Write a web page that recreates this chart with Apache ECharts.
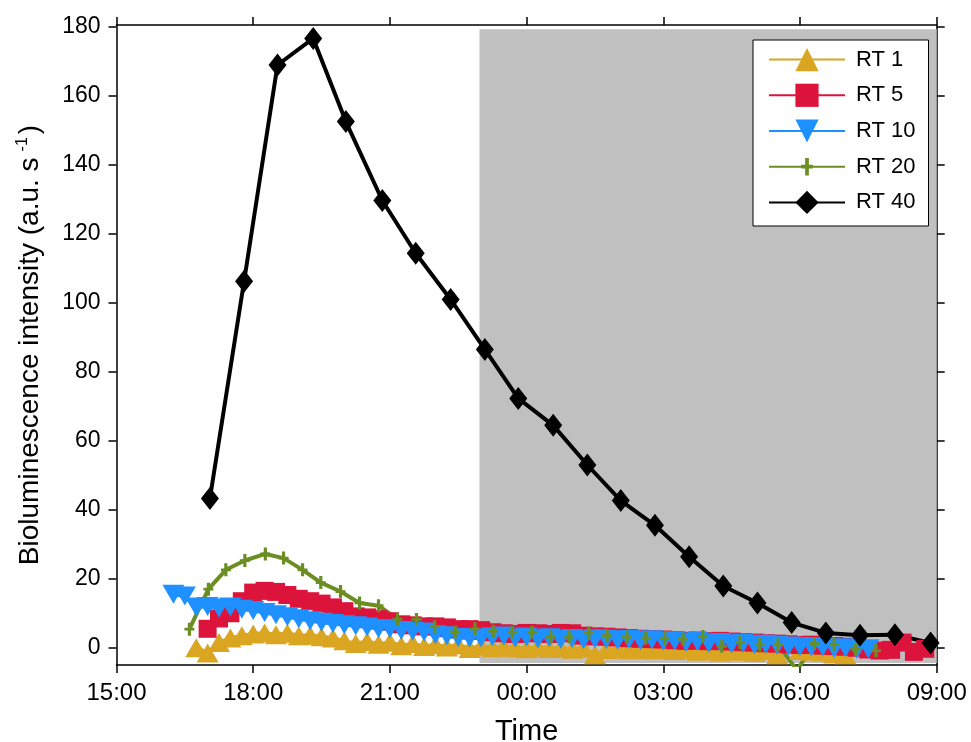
<!DOCTYPE html>
<html><head><meta charset="utf-8">
<script src="https://cdn.jsdelivr.net/npm/echarts@6/dist/echarts.min.js"></script>
<style>html,body{margin:0;padding:0;background:#fff}#c{width:971px;height:742px}</style>
</head><body><div id="c"></div>
<script>
// ---- data ----
const sampleTimes = ["16:15","16:30","16:45","17:00","17:15","17:30","17:45","18:00","18:15","18:30","18:45","19:00","19:15","19:30","19:45","20:00","20:15","20:30","20:45","21:00","21:15","21:30","21:45","22:00","22:15","22:30","22:45","23:00","23:15","23:30","23:45","00:00","00:15","00:30","00:45","01:00","01:15","01:30","01:45","02:00","02:15","02:30","02:45","03:00","03:15","03:30","03:45","04:00","04:15","04:30","04:45","05:00","05:15","05:30","05:45","06:00","06:15","06:30","06:45","07:00","07:15","07:30","07:45","08:00","08:15","08:30","08:45"];
const rt1Values = [null,null,0.0,-1.5,1.5,2.8,3.5,4.0,4.3,3.8,4.2,3.5,3.6,3.2,2.8,2.0,1.2,1.8,1.0,1.6,0.6,1.2,0.4,0.9,0.2,0.8,-0.2,0.5,0.0,0.3,0.0,-0.3,0.2,-0.2,0.0,-0.4,-0.1,-2.0,-0.5,-0.3,-0.6,-0.4,-0.6,-0.5,-0.8,-0.5,-1.0,-0.7,-1.2,-0.9,-1.0,-1.3,-0.8,-2.0,1.3,-0.8,-1.0,-1.2,-1.8,-2.0,null,null,null,null,null,null,null];
const rt5Values = [null,null,null,5.5,8.5,10.0,13.5,16.0,16.5,16.2,15.3,14.2,13.5,12.8,11.7,10.6,9.1,8.8,8.3,7.7,6.8,6.5,6.2,6.2,5.9,5.4,5.4,5.1,4.5,4.2,4.0,4.3,4.2,4.0,4.3,4.2,3.5,3.3,3.2,3.0,2.8,2.6,2.5,2.4,2.2,2.0,2.1,1.9,2.0,1.8,1.6,1.5,1.3,1.2,1.0,0.8,0.9,0.6,0.5,0.3,0.0,-0.5,-0.8,-0.6,1.5,-1.2,-0.3];
const rt10Values = [15.5,15.0,11.8,12.0,11.5,11.8,11.2,10.8,10.2,9.6,9.0,8.4,7.8,7.4,7.0,6.7,6.4,6.0,5.6,5.5,5.0,4.8,4.6,3.8,3.5,3.0,2.8,2.8,3.2,3.4,2.8,3.1,2.6,2.9,2.4,2.7,2.3,2.6,2.5,2.2,2.4,2.1,2.3,1.9,2.0,1.6,1.8,1.3,1.5,1.1,1.3,0.9,1.0,0.7,0.5,0.4,0.2,0.3,-0.2,0.0,-0.4,-0.3,null,null,null,null,null];
const rt20Times = ["16:36","17:01","17:24","17:49","18:16","18:40","19:05","19:29","19:55","20:20","20:45","21:10","21:35","21:59","22:26","22:52","23:16","23:41","00:07","00:32","00:56","01:22","01:46","02:12","02:37","03:02","03:26","03:52","04:17","04:41","05:07","05:31","05:56","06:19","06:45","07:13","07:40"];
const rt20Values = [5.4,17.0,22.6,25.3,27.2,26.0,22.6,18.9,16.3,13.0,12.2,8.3,8.2,6.1,4.6,5.5,4.8,4.5,4.5,3.1,3.1,4.3,3.5,3.1,2.8,2.7,2.5,3.3,0.4,1.5,0.9,0.9,-6.5,1.2,1.0,-0.4,-0.8];
const rt40Times = ["17:03","17:48","18:32","19:19","20:02","20:50","21:34","22:20","23:05","23:49","00:35","01:20","02:04","02:49","03:34","04:19","05:04","05:49","06:34","07:19","08:05","08:52"];
const rt40Values = [43.3,106.3,169.0,176.7,152.6,129.7,114.4,101.0,86.5,72.3,64.5,53.0,42.7,35.5,26.4,17.9,13.0,7.3,4.3,3.6,3.8,1.4];
const seriesNames = ["RT 1","RT 5","RT 10","RT 20","RT 40"];
const xTickHours = [15,18,21,24,27,30,33];
const yTickValues = [0,20,40,60,80,100,120,140,160,180];
const darkPeriod = {start:"22:58", end:"09:00", low:-4.4, high:179.4};

// ---- helpers ----
function toHour(s){ const p=s.split(':'); let h=+p[0]+(+p[1])/60; if(h<12) h+=24; return h; }
function pairs(times, vals){ const out=[]; for(let i=0;i<vals.length;i++){ if(vals[i]!==null) out.push([toHour(times[i]), vals[i]]); } return out; }
function fmtHour(v){ const h=((Math.round(v)%24)+24)%24; return (h<10?'0':'')+h+':00'; }

const FONT = "'Liberation Sans', Arial, sans-serif";
const downTri = 'path://M0,0 L20,0 L10,18 Z';
const plusSym = 'path://M0,0 L0.01,0 L0,0.01 Z M20,20 L19.99,20 L20,19.99 Z M8.4,2.5 L11.6,2.5 L11.6,8.4 L15,8.4 L15,11.6 L11.6,11.6 L11.6,17.5 L8.4,17.5 L8.4,11.6 L5,11.6 L5,8.4 L8.4,8.4 Z';

const chart = echarts.init(document.getElementById('c'), null, {renderer:'canvas'});
const axisLineStyle = {color:'#000', width:1.5};
const xBase = {type:'value', min:15, max:33, interval:3, splitLine:{show:false},
  axisLine:{show:true, onZero:false, lineStyle:axisLineStyle},
  axisTick:{show:true, inside:false, length:8, lineStyle:axisLineStyle}};
const yBase = {type:'value', min:-5, max:180.6, splitLine:{show:false},
  axisLine:{show:true, onZero:false, lineStyle:axisLineStyle},
  axisTick:{show:true, inside:false, length:8, lineStyle:axisLineStyle, customValues:yTickValues}};

function lineSeries(name, color, data, symbol, size, lw, extra){
  return Object.assign({
    name, type:'line', data, symbol, symbolSize:size, showSymbol:true, showAllSymbol:true,
    itemStyle:{color, borderWidth:0}, lineStyle:{color, width:lw},
    emphasis:{disabled:true}, animation:false, clip:true, z:3
  }, extra||{});
}

const option = {
  backgroundColor:'#fff',
  animation:false,
  grid:{left:116.5, right:34.3, top:25, bottom:77, containLabel:false, outerBoundsMode:'none'},
  xAxis:[
    Object.assign({}, xBase, {position:'bottom',
      axisLabel:{show:true, formatter:fmtHour, color:'#000', fontSize:24, fontFamily:FONT, margin:16, customValues:xTickHours},
      axisTick:Object.assign({}, xBase.axisTick, {customValues:xTickHours}),
      name:'Time', nameLocation:'middle', nameGap:52,
      nameTextStyle:{color:'#000', fontSize:29, fontFamily:FONT}}),
    Object.assign({}, xBase, {position:'top', axisLabel:{show:false},
      axisTick:Object.assign({}, xBase.axisTick, {customValues:xTickHours})})
  ],
  yAxis:[
    Object.assign({}, yBase, {position:'left',
      axisLabel:{show:true, color:'#000', fontSize:23, fontFamily:FONT, margin:16, customValues:yTickValues},
      name:'{t|Bioluminescence intensity (a.u. s}{s|-1}{t|)}', nameLocation:'middle', nameGap:70,
      nameTextStyle:{color:'#000', fontFamily:FONT, fontSize:28,
        rich:{t:{fontSize:28, fontFamily:FONT, color:'#000', lineHeight:32},
              s:{fontSize:16, fontFamily:FONT, color:'#000', verticalAlign:'top', lineHeight:32, padding:[0,3,0,6]}}}}),
    Object.assign({}, yBase, {position:'right', axisLabel:{show:false}})
  ],
  legend:{
    data:seriesNames, orient:'vertical', left:753, top:40,
    padding:[8,13,12,15], itemGap:12.5, itemWidth:76, itemHeight:29,
    backgroundColor:'#fff', borderColor:'#000', borderWidth:1, borderRadius:0,
    textStyle:{color:'#000', fontSize:22, fontFamily:FONT, padding:[0,0,0,6]},
    selectedMode:false
  },
  series:[
    lineSeries(seriesNames[0], '#DAA520', pairs(sampleTimes, rt1Values), 'triangle', [22,19], 4, {
      markArea:{silent:true, z:1, itemStyle:{color:'#C0C0C0', opacity:1, borderWidth:0},
        data:[[{coord:[toHour(darkPeriod.start), darkPeriod.low]}, {coord:[toHour(darkPeriod.end), darkPeriod.high]}]]}
    }),
    lineSeries(seriesNames[1], '#DC143C', pairs(sampleTimes, rt5Values), 'rect', [18,18], 4),
    lineSeries(seriesNames[2], '#1E90FF', pairs(sampleTimes, rt10Values), downTri, [22,19], 4),
    lineSeries(seriesNames[3], '#6B8E23', pairs(rt20Times, rt20Values), plusSym, [20,17.3], 4),
    lineSeries(seriesNames[4], '#000000', pairs(rt40Times, rt40Values), 'diamond', [18,23], 4)
  ]
};
chart.setOption(option);
</script>
</body></html>
